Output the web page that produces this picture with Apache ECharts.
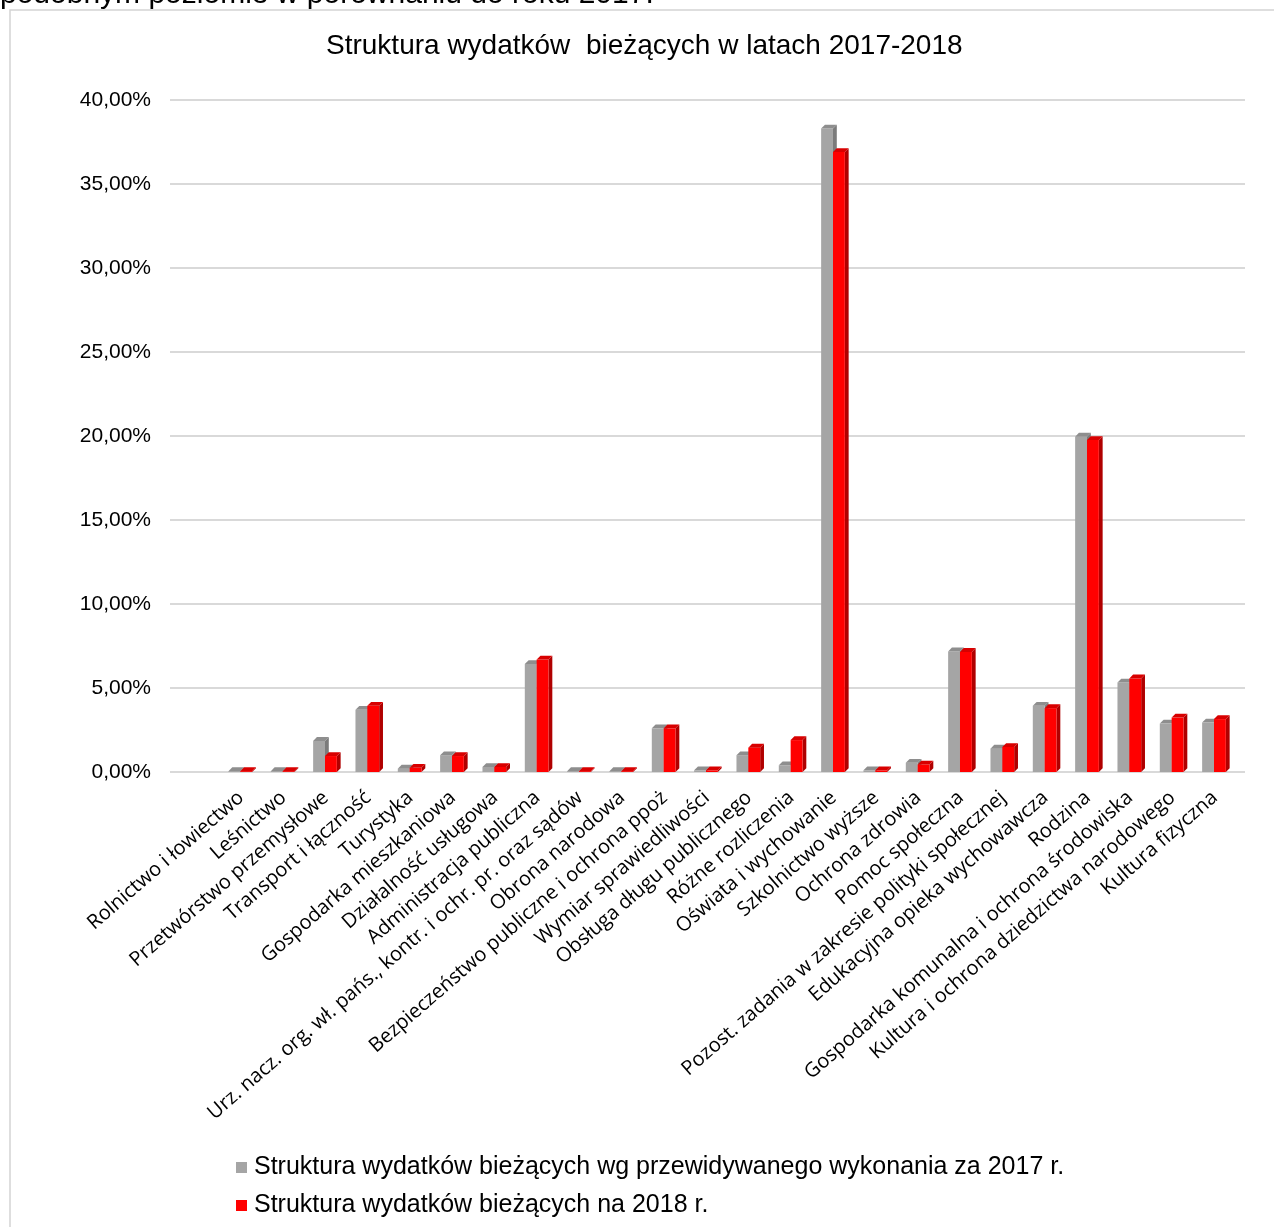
<!DOCTYPE html>
<html>
<head>
<meta charset="utf-8">
<script src="https://cdn.jsdelivr.net/npm/echarts@6/dist/echarts.min.js"></script>
<style>
html,body{margin:0;padding:0;background:#fff;}
#c{width:1274px;height:1227px;}
</style>
</head>
<body>
<div id="c"></div>
<script>
const categories = [
  'Rolnictwo i łowiectwo',
  'Leśnictwo',
  'Przetwórstwo przemysłowe',
  'Transport i łączność',
  'Turystyka',
  'Gospodarka mieszkaniowa',
  'Działalność usługowa',
  'Administracja publiczna',
  'Urz. nacz. org. wł. pańs., kontr. i ochr. pr. oraz sądów',
  'Obrona narodowa',
  'Bezpieczeństwo publiczne i ochrona ppoż',
  'Wymiar sprawiedliwości',
  'Obsługa długu publicznego',
  'Różne rozliczenia',
  'Oświata i wychowanie',
  'Szkolnictwo wyższe',
  'Ochrona zdrowia',
  'Pomoc społeczna',
  'Pozost. zadania w zakresie polityki społecznej',
  'Edukacyjna opieka wychowawcza',
  'Rodzina',
  'Gospodarka komunalna i ochrona środowiska',
  'Kultura i ochrona dziedzictwa narodowego',
  'Kultura fizyczna'
];
const values2017 = [0.05, 0.05, 1.85, 3.70, 0.20, 1.00, 0.30, 6.43, 0.05, 0.05, 2.60, 0.10, 1.00, 0.40, 38.30, 0.10, 0.55, 7.18, 1.39, 3.94, 19.96, 5.33, 2.88, 2.94];
const values2018 = [0.05, 0.05, 0.95, 3.94, 0.25, 0.95, 0.30, 6.69, 0.05, 0.05, 2.60, 0.10, 1.45, 1.90, 36.90, 0.10, 0.45, 7.15, 1.49, 3.80, 19.76, 5.57, 3.24, 3.15];
const yTicks = [0, 5, 10, 15, 20, 25, 30, 35, 40];
const seriesNames = [
  'Struktura wydatków bieżących wg przewidywanego wykonania za 2017 r.',
  'Struktura wydatków bieżących na 2018 r.'
];
const titleText = 'Struktura wydatków  bieżących w latach 2017-2018';
const topText = 'podobnym poziomie w porównaniu do roku 2017.';

const palettes = [
  {front: '#A5A5A5', side: '#7B7B7B', top: '#8E8E8E'},
  {front: '#FF0000', side: '#B00000', top: '#D80000'}
];

function render3D(sIdx) {
  return function (params, api) {
    const ci = api.value(0);
    const v = api.value(1);
    const base = api.coord([ci, 0]);
    const tp = api.coord([ci, v]);
    const band = api.size([1, 0])[0];
    const bw = band * 0.28;
    const d = band * 0.09;
    const x0 = base[0] - band * 0.30 + sIdx * bw;
    const yb = base[1];
    const yt = tp[1];
    const p = palettes[sIdx];
    return {
      type: 'group',
      children: [
        {type: 'polygon', shape: {points: [[x0 + bw, yt], [x0 + bw + d, yt - d], [x0 + bw + d, yb - d], [x0 + bw, yb]]}, style: {fill: p.side}},
        {type: 'rect', shape: {x: x0, y: yt, width: bw, height: yb - yt}, style: {fill: p.front}},
        {type: 'polygon', shape: {points: [[x0, yt], [x0 + bw, yt], [x0 + bw + d, yt - d], [x0 + d, yt - d]]}, style: {fill: p.top}}
      ]
    };
  };
}

const chart = echarts.init(document.getElementById('c'), null, {renderer: 'canvas'});
const option = {
  backgroundColor: '#fff',
  animation: false,
  title: {
    text: titleText,
    left: 321,
    top: 27,
    textStyle: {fontFamily: 'Liberation Sans, Arial', fontSize: 28, fontWeight: 'normal', color: '#000'}
  },
  legend: {
    orient: 'vertical',
    left: 231,
    top: 1150,
    itemWidth: 11,
    itemHeight: 11,
    itemGap: 13,
    icon: 'rect',
    data: seriesNames,
    textStyle: {fontFamily: 'Liberation Sans, Arial', fontSize: 25, color: '#000', padding: [0, 0, 0, 2]}
  },
  graphic: [
    {type: 'rect', shape: {x: 10, y: 10, width: 1300, height: 1300}, style: {fill: 'none', stroke: '#d4d4d4', lineWidth: 1.5}, silent: true},
    {type: 'text', left: 0, top: -20, style: {text: topText, font: '30px "Liberation Sans", Arial', fill: '#000'}, silent: true}
  ],
  grid: [
    {left: 170, right: 29, top: 100, bottom: 455, containLabel: false},
    {left: 220, right: 38, top: 100, bottom: 455, containLabel: false}
  ],
  xAxis: [
    {type: 'category', gridIndex: 0, data: categories, show: false},
    {
      type: 'category', gridIndex: 1, data: categories,
      axisLine: {show: false}, axisTick: {show: false},
      axisLabel: {
        interval: 0, rotate: 41, margin: 23,
        fontFamily: 'Open Sans', fontSize: 20, color: '#000'
      }
    }
  ],
  yAxis: [
    {
      type: 'value', gridIndex: 0, min: 0, max: 40, interval: 5,
      axisLine: {show: false}, axisTick: {show: false},
      splitLine: {lineStyle: {color: '#d9d9d9', width: 2}},
      axisLabel: {
        margin: 19, fontFamily: 'Liberation Sans, Arial', fontSize: 21, color: '#000',
        formatter: function (v) { return v.toFixed(2).replace('.', ',') + '%'; }
      }
    },
    {type: 'value', gridIndex: 1, min: 0, max: 40, interval: 5, show: false, splitLine: {show: false}}
  ],
  series: [
    {
      name: seriesNames[0], type: 'custom', xAxisIndex: 1, yAxisIndex: 1,
      itemStyle: {color: palettes[0].front},
      renderItem: render3D(0),
      data: values2017.map(function (v, i) { return [i, v]; })
    },
    {
      name: seriesNames[1], type: 'custom', xAxisIndex: 1, yAxisIndex: 1,
      itemStyle: {color: palettes[1].front},
      renderItem: render3D(1),
      data: values2018.map(function (v, i) { return [i, v]; })
    }
  ]
};
chart.setOption(option);
</script>
</body>
</html>
